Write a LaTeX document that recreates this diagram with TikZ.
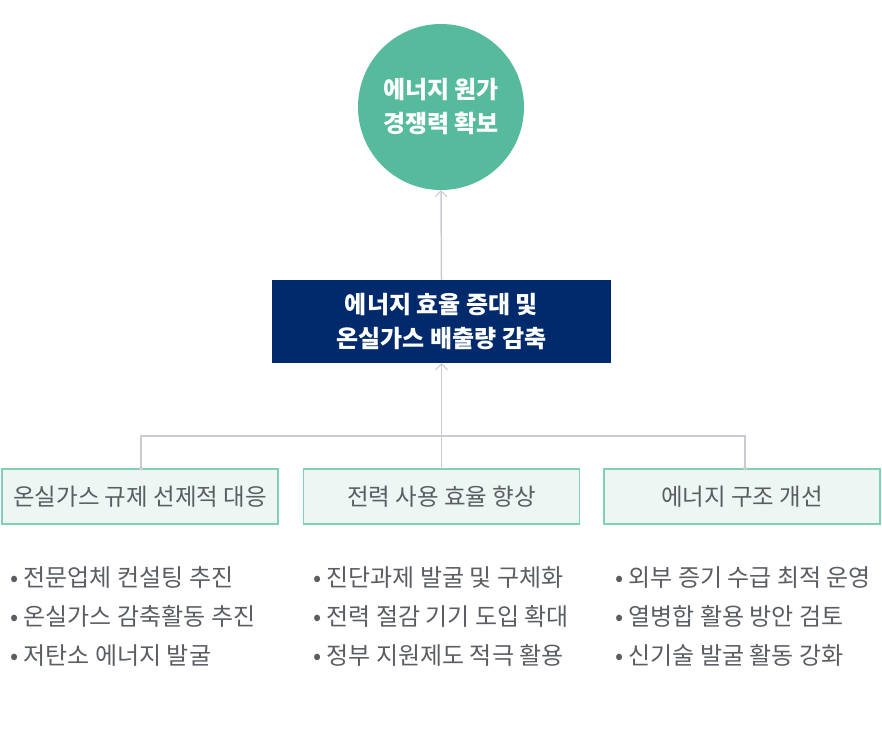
\documentclass[tikz,border=0pt]{standalone}
\usepackage{fontspec}
\setmainfont{Noto Sans CJK KR}
\usepackage{xcolor}
\usetikzlibrary{arrows.meta}

\definecolor{mint}{HTML}{56BB9D}
\definecolor{navy}{HTML}{002A6C}
\definecolor{paleg}{HTML}{EEF6F3}
\definecolor{edgeg}{HTML}{82D0B4}
\definecolor{wire}{HTML}{C9CDD1}
\definecolor{txt}{HTML}{5A5E63}

\begin{document}
\begin{tikzpicture}[x=1pt, y=-1pt,
    goal/.style={circle, fill=mint, minimum size=166pt, inner sep=0pt, text=white,
        font=\fontsize{24}{34}\selectfont\bfseries, align=center},
    mid/.style={rectangle, fill=navy, minimum width=339pt, minimum height=83pt, text=white,
        font=\fontsize{24}{34}\selectfont\bfseries, align=center},
    sub/.style={rectangle, draw=edgeg, line width=1.2pt, fill=paleg, minimum width=276pt,
        minimum height=55pt, inner sep=0pt, text=txt, font=\fontsize{23.5}{26}\selectfont},
    item/.style={anchor=west, text=txt, font=\fontsize{24}{39}\selectfont, align=left,
        inner sep=0pt},
    wireline/.style={draw=wire, line width=1.5pt},
    up/.style={wireline, -{Straight Barb[length=6pt, width=12pt, line width=1pt]}}]

    \useasboundingbox (0,0) rectangle (882,730);

    \node[goal] (goal) at (441,107) {에너지 원가\\경쟁력 확보};
    \node[mid] (mid) at (441.5,321.5) {에너지 효율 증대 및\\온실가스 배출량 감축};

    \node[sub] (s1) at (140,496.5) {온실가스 규제 선제적 대응};
    \node[sub] (s2) at (441.5,496.5) {전력 사용 효율 향상};
    \node[sub] (s3) at (742,496.5) {에너지 구조 개선};

    \coordinate (bar) at (441.5,436);
    \coordinate (barL) at (141,436);
    \coordinate (barR) at (745,436);

    \draw[up] (mid.north) -- (goal.south);
    \draw[up] (s2.north) -- (mid.south);
    \draw[wireline] (s1.north -| barL) -- (barL) -- (barR) -- (s3.north -| barR);
    \fill[wire] (s1.north -| barL) circle (2pt);
    \fill[wire] (s3.north -| barR) circle (2pt);

    % bullet lists
    \node[item] (l1) at (10,617) {• 전문업체 컨설팅 추진\\• 온실가스 감축활동 추진\\• 저탄소 에너지 발굴};
    \node[item] (l2) at (313,617) {• 진단과제 발굴 및 구체화\\• 전력 절감 기기 도입 확대\\• 정부 지원제도 적극 활용};
    \node[item] (l3) at (615,617) {• 외부 증기 수급 최적 운영\\• 열병합 활용 방안 검토\\• 신기술 발굴 활동 강화};
\end{tikzpicture}
\end{document}
